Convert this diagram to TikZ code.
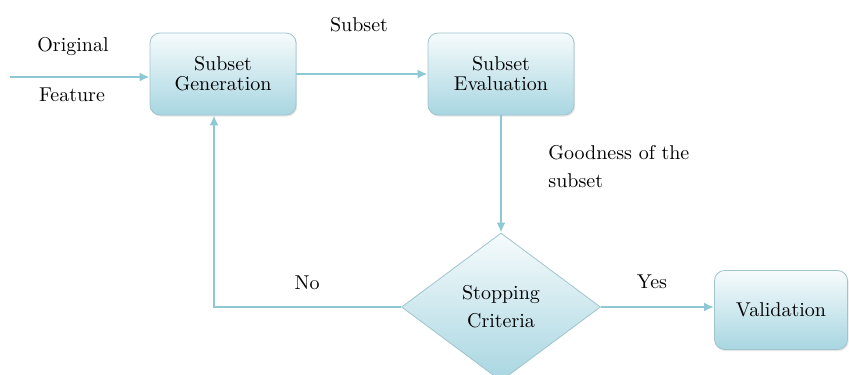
\documentclass[tikz,border=0pt]{standalone}
\usepackage{tikz}
\usetikzlibrary{shapes.geometric}
\usetikzlibrary{arrows.meta}
\usetikzlibrary{shadows}

\definecolor{flowcol}{RGB}{141,200,212}
\definecolor{edgecol}{RGB}{160,196,206}
\definecolor{topcol}{RGB}{246,251,252}
\definecolor{botcol}{RGB}{168,214,225}

\tikzset{
    procbox/.style={draw=edgecol, rounded corners=5pt, top color=topcol, bottom color=botcol,
        minimum width=73pt, minimum height=41pt, align=center, inner sep=2pt,
        drop shadow={opacity=0.2, shadow xshift=0.6pt, shadow yshift=-0.8pt}},
    decision/.style={draw=edgecol, diamond, aspect=1.34, top color=topcol, bottom color=botcol,
        minimum width=99.5pt, minimum height=74pt, align=center, inner sep=0pt},
    flowline/.style={draw=flowcol, line width=1.1pt, -{Latex[length=5pt,width=4.5pt]}},
    lbl/.style={inner sep=0pt, font=\normalsize}
}

\begin{document}
\begin{tikzpicture}[x=0.5pt, y=-0.5pt]
    \useasboundingbox (0,0) rectangle (849,374);
    % Boxes
    \node[procbox] (gen) at (223,74) {Subset\\[-2pt]Generation};
    \node[procbox] (eval) at (501,74) {Subset\\[-2pt]Evaluation};
    \node[decision] (stop) at (501,307) {Stopping\\[2pt]Criteria};
    \node[procbox, minimum width=66.5pt, minimum height=39.5pt] (valid) at (781,310) {Validation};
    % Free end of the input
    \coordinate (feat) at (10,77);
    % Connectors
    \draw[flowline] (feat) -- (gen.west |- feat);
    \draw[flowline] (gen) -- (eval);
    \draw[flowline] (eval) -- (stop);
    \draw[flowline] (stop.east) -- (valid.west |- stop.east);
    \draw[flowline] (stop.west) -| ([xshift=-4.5pt]gen.south);
    % Labels
    \node[lbl] (orig) at (73,47) {Original};
    \node[lbl] (feature) at (72,95) {Feature};
    \node[lbl] (sub) at (359,25) {Subset};
    \node[lbl, anchor=north west, align=left] (good) at (548,145) {Goodness of the\\[2pt]subset};
    \node[lbl] (no) at (307,283) {No};
    \node[lbl] (yes) at (652,282) {Yes};
\end{tikzpicture}
\end{document}
